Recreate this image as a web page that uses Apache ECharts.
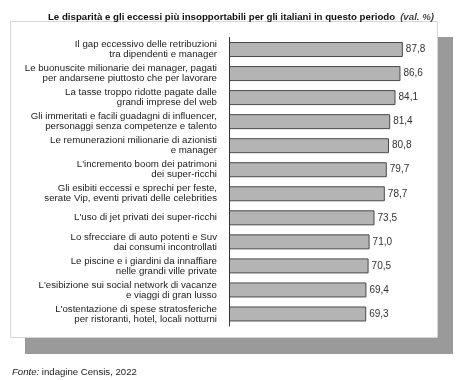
<!DOCTYPE html>
<html><head><meta charset="utf-8">
<script src="https://cdn.jsdelivr.net/npm/echarts@6/dist/echarts.min.js"></script>
<style>html,body{margin:0;padding:0;background:#fff}#c{width:463px;height:380px}</style>
</head><body><div id="c"></div>
<script>
const categories = [
  "Il gap eccessivo delle retribuzioni\ntra dipendenti e manager",
  "Le buonuscite milionarie dei manager, pagati\nper andarsene piuttosto che per lavorare",
  "La tasse troppo ridotte pagate dalle\ngrandi imprese del web",
  "Gli immeritati e facili guadagni di influencer,\npersonaggi senza competenze e talento",
  "Le remunerazioni milionarie di azionisti\ne manager",
  "L'incremento boom dei patrimoni\ndei super-ricchi",
  "Gli esibiti eccessi e sprechi per feste,\nserate Vip, eventi privati delle celebrities",
  "L'uso di jet privati dei super-ricchi",
  "Lo sfrecciare di auto potenti e Suv\ndai consumi incontrollati",
  "Le piscine e i giardini da innaffiare\nnelle grandi ville private",
  "L'esibizione sui social network di vacanze\ne viaggi di gran lusso",
  "L'ostentazione di spese stratosferiche\nper ristoranti, hotel, locali notturni"
];
const values = [87.8, 86.6, 84.1, 81.4, 80.8, 79.7, 78.7, 73.5, 71.0, 70.5, 69.4, 69.3];
const titleMain = "Le disparità e gli eccessi più insopportabili per gli italiani in questo periodo";
const titleUnit = "(val. %)";
const sourceLabel = "Fonte:";
const sourceText = " indagine Censis, 2022";

const chart = echarts.init(document.getElementById('c'), null, {renderer: 'canvas'});
const FONT = '"Liberation Sans", Arial, sans-serif';
chart.setOption({
  animation: false,
  backgroundColor: '#fff',
  title: {
    text: '{b|' + titleMain + '} {i|' + titleUnit + '}',
    left: 236, top: 3, textAlign: 'center',
    textStyle: {
      rich: {
        b: {fontFamily: FONT, fontSize: 9.7, fontWeight: 'bold', color: '#111'},
        i: {fontFamily: FONT, fontSize: 9.7, fontStyle: 'italic', color: '#444'}
      }
    }
  },
  graphic: [
    {type: 'rect', z: 0, shape: {x: 25, y: 37, width: 428, height: 317}, style: {fill: '#9a9a9a'}},
    {type: 'rect', z: 1, shape: {x: 10.5, y: 21.5, width: 427, height: 316}, style: {fill: '#fff', stroke: '#d6d6d6', lineWidth: 1}},
    {type: 'text', z: 5, left: 12, top: 367, style: {
      text: '{i|' + sourceLabel + '}{n|' + sourceText + '}',
      rich: {
        i: {fontFamily: FONT, fontSize: 9.6, fontStyle: 'italic', fill: '#222'},
        n: {fontFamily: FONT, fontSize: 9.6, fill: '#222'}
      }
    }}
  ],
  grid: {left: 229, top: 37.5, width: 198, height: 288.5, containLabel: false},
  xAxis: {
    type: 'value', min: 0, max: 100, show: false
  },
  yAxis: {
    type: 'category', data: categories, inverse: true,
    axisLine: {show: true, lineStyle: {color: '#333', width: 1}},
    axisTick: {show: false},
    axisLabel: {fontFamily: FONT, fontSize: 9.7, color: '#222', lineHeight: 10, margin: 12, align: 'right'},
    z: 10
  },
  series: [{
    type: 'bar', data: values, barWidth: 15, z: 5,
    itemStyle: {color: '#b4b4b4', borderColor: '#4a4a4a', borderWidth: 1},
    label: {
      show: true, position: 'right', distance: 3,
      fontFamily: FONT, fontSize: 10, color: '#333',
      formatter: p => p.value.toFixed(1).replace('.', ',')
    }
  }]
});
</script></body></html>
